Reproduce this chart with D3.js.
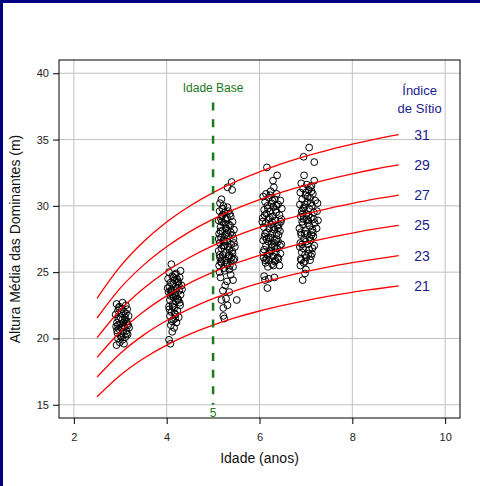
<!DOCTYPE html>
<html lang="pt">
<head>
<meta charset="UTF-8">
<title>Índice de Sítio</title>
<script src="https://d3js.org/d3.v7.min.js"></script>
<style>
    body { margin: 0; background: #fff; }
    #frame {
        width: 477px; height: 483px;
        border-left: 3px solid #000080;
        border-top: 3px solid #000080;
        background: #fff;
    }
    svg { font-family: "Liberation Sans", Arial, sans-serif; display: block; }
    .grid line { stroke: #c0c0c0; stroke-width: 1; }
    .tick text { font-size: 11px; fill: #222; }
</style>
</head>
<body>
<div id="frame"><svg id="chart" width="477" height="483"></svg></div>
<script>
// ages for the site index curves
let curveAges = [2.5, 3, 3.5, 4, 4.5, 5, 5.5, 6, 6.5, 7, 7.5, 8, 8.5, 9];
let siteIndex = [21, 23, 25, 27, 29, 31];
let curveHeights = [
    [15.60, 17.23, 18.49, 19.50, 20.32, 21, 21.58, 22.07, 22.49, 22.86, 23.19, 23.48, 23.73, 23.97],
    [17.09, 18.87, 20.25, 21.35, 22.25, 23, 23.63, 24.17, 24.63, 25.04, 25.40, 25.71, 25.99, 26.25],
    [18.57, 20.51, 22.01, 23.21, 24.19, 25, 25.69, 26.27, 26.78, 27.22, 27.61, 27.95, 28.26, 28.53],
    [20.06, 22.15, 23.77, 25.07, 26.12, 27, 27.74, 28.37, 28.92, 29.39, 29.81, 30.18, 30.52, 30.81],
    [21.54, 23.79, 25.53, 26.92, 28.06, 29, 29.79, 30.47, 31.06, 31.57, 32.02, 32.42, 32.78, 33.09],
    [23.03, 25.43, 27.29, 28.78, 29.99, 31, 31.85, 32.57, 33.20, 33.75, 34.23, 34.65, 35.04, 35.38]
];
let xTicks = [2, 4, 6, 8, 10];
let yTicks = [15, 20, 25, 30, 35, 40];
let baseAge = 5;

// observed plots [age, height]
let obs3 = [
    [2.92,22.6],[3.05,22.7],[3.12,22.5],[2.98,22.4],[3.15,22.2],[2.95,22.1],[3.08,22.0],[3.02,21.9],[2.90,21.8],[3.18,21.7],
    [3.10,21.6],[2.96,21.5],[3.04,21.4],[3.14,21.3],[2.93,21.2],[3.07,21.2],[3.00,21.1],[3.17,21.0],[2.91,20.9],[3.09,20.9],
    [3.03,20.8],[2.97,20.7],[3.13,20.6],[3.06,20.5],[2.94,20.4],[3.16,20.3],[3.01,20.2],[3.11,20.1],[2.95,20.0],[3.05,19.9],
    [2.99,19.7],[3.08,19.6],[2.92,19.5],[3.14,20.4],[3.00,21.6],[3.12,21.9],[2.97,22.3],[3.06,21.0],[2.93,20.6],[3.19,20.8],
    [3.02,20.1],[3.10,21.4],[2.95,21.0],[3.15,21.1],[3.04,22.2]
];
let obs4 = [
    [4.10,25.6],[4.30,25.1],[4.05,25.0],[4.20,24.9],[4.12,24.7],[4.28,24.6],[4.03,24.5],[4.17,24.4],[4.25,24.3],[4.08,24.2],
    [4.14,24.1],[4.32,24.0],[4.06,23.9],[4.22,23.8],[4.11,23.7],[4.27,23.6],[4.04,23.5],[4.18,23.4],[4.30,23.3],[4.09,23.2],
    [4.15,23.1],[4.24,23.0],[4.07,22.9],[4.20,22.8],[4.13,22.6],[4.29,22.5],[4.05,22.4],[4.16,22.3],[4.23,22.1],[4.10,22.0],
    [4.19,21.8],[4.07,21.7],[4.26,21.6],[4.14,21.4],[4.21,21.2],[4.09,21.0],[4.16,20.8],[4.12,20.5],[4.05,19.9],[4.08,19.6],
    [4.18,24.8],[4.24,24.2],[4.02,23.8],[4.33,23.7],[4.12,23.3],[4.28,22.7],[4.06,22.2],[4.17,21.9],[4.22,24.5],[4.10,23.6],
    [4.15,24.6],[4.26,24.0],[4.09,23.5],[4.20,23.2],[4.13,22.4],[4.25,22.9],[4.18,21.5],[4.11,21.3]
];
let obs5 = [
    [5.40,31.8],[5.31,31.4],[5.41,31.2],[5.18,30.5],[5.15,30.2],[5.31,29.9],[5.22,30.0],
    [5.14,29.6],[5.25,29.5],[5.36,29.4],[5.19,29.2],[5.30,29.1],[5.12,28.9],[5.42,28.8],[5.23,28.7],[5.34,28.6],[5.16,28.4],
    [5.28,28.3],[5.45,28.2],[5.20,28.1],[5.38,28.0],[5.13,27.9],[5.26,27.8],[5.33,27.7],[5.17,27.6],[5.44,27.5],[5.22,27.4],
    [5.30,27.3],[5.14,27.2],[5.39,27.1],[5.25,27.0],[5.47,26.9],[5.18,26.8],[5.35,26.7],[5.12,26.6],[5.28,26.5],[5.42,26.4],
    [5.21,26.3],[5.33,26.2],[5.15,26.1],[5.46,26.0],[5.26,25.9],[5.38,25.8],[5.18,25.7],[5.30,25.6],[5.13,25.5],[5.43,25.4],
    [5.23,25.3],[5.35,25.2],[5.20,29.8],[5.37,28.5],[5.24,27.3],[5.41,26.6],[5.16,25.8],[5.32,26.9],[5.19,28.8],[5.45,27.2],
    [5.27,29.0],[5.36,25.5],[5.14,26.3],[5.29,27.9],[5.40,26.1],
    [5.20,29.3],[5.33,29.6],[5.27,28.6],[5.16,28.1],[5.41,27.8],[5.22,27.0],[5.35,26.3],[5.19,26.0],[5.29,25.7],[5.44,25.9],
    [5.25,25.1],[5.12,27.5],[5.38,29.2],[5.31,28.0],[5.17,29.0],
    [5.26,24.0],[5.35,23.5],[5.43,24.4],[5.16,24.6],[5.21,23.6],[5.28,23.0],[5.18,22.9],[5.51,22.9],[5.22,22.3],[5.31,22.5],
    [5.22,21.7],[5.24,21.5],[5.38,24.8],[5.14,25.0],[5.30,24.3]
];
let obs6 = [
    [6.16,32.9],[6.38,32.3],[6.29,31.9],[6.31,31.4],[6.37,30.9],[6.14,30.9],
    [6.08,30.7],[6.20,30.6],[6.33,30.5],[6.45,30.4],[6.12,30.3],[6.26,30.2],[6.40,30.1],[6.17,30.0],[6.30,29.9],[6.48,29.8],
    [6.10,29.7],[6.23,29.6],[6.36,29.5],[6.15,29.4],[6.43,29.3],[6.28,29.2],[6.07,29.1],[6.19,29.0],[6.34,28.9],[6.46,28.8],
    [6.13,28.7],[6.25,28.6],[6.39,28.5],[6.09,28.4],[6.21,28.3],[6.32,28.2],[6.44,28.1],[6.16,28.0],[6.27,27.9],[6.41,27.8],
    [6.11,27.7],[6.24,27.6],[6.37,27.5],[6.08,27.4],[6.19,27.3],[6.31,27.2],[6.47,27.1],[6.14,27.0],[6.26,26.9],[6.38,26.8],
    [6.10,26.7],[6.22,26.6],[6.35,26.5],[6.45,26.4],[6.17,26.3],[6.29,26.2],[6.09,26.1],[6.41,26.0],[6.20,25.9],[6.33,25.8],
    [6.13,25.7],[6.27,25.6],[6.43,25.5],[6.18,25.4],[6.36,30.0],[6.22,29.1],[6.30,28.4],[6.12,27.9],[6.40,27.3],[6.25,26.6],
    [6.15,26.0],[6.34,25.9],[6.06,28.8],[6.47,29.0],[6.20,27.6],[6.32,26.9],[6.28,30.4],[6.42,28.6],[6.18,29.8],[6.37,27.9],
    [6.23,30.8],[6.35,29.7],[6.11,29.3],[6.27,28.8],[6.40,28.3],[6.15,27.5],[6.33,27.4],[6.21,26.4],[6.39,26.1],[6.12,25.9],
    [6.30,25.5],[6.24,31.1],[6.44,27.0],[6.08,26.5],[6.26,27.1],
    [6.10,24.7],[6.32,24.6],[6.12,24.4],[6.20,24.5],[6.17,23.8]
];
let obs7 = [
    [7.07,34.4],[6.95,33.7],[7.18,33.3],[6.96,32.3],[7.18,31.9],
    [6.90,31.7],[7.02,31.6],[7.12,31.5],[6.94,31.3],[7.06,31.2],[6.88,31.0],[7.15,30.9],[6.99,30.8],[7.09,30.6],[6.92,30.5],
    [7.20,30.4],[7.03,30.3],[6.87,30.1],[7.13,30.0],[6.97,29.9],[7.07,29.8],[6.91,29.6],[7.17,29.5],[7.01,29.4],[6.89,29.2],
    [7.11,29.1],[6.95,29.0],[7.05,28.9],[7.19,28.7],[6.93,28.6],[7.08,28.5],[6.86,28.3],[7.14,28.2],[6.99,28.1],[7.03,27.9],
    [6.90,27.8],[7.16,27.7],[6.96,27.5],[7.10,27.4],[6.88,27.2],[7.04,27.1],[7.18,27.0],[6.94,26.8],[7.07,26.7],[6.91,26.5],
    [7.13,26.4],[6.98,26.3],[7.01,26.1],[6.89,26.0],[7.09,25.9],[6.95,25.7],[7.12,31.1],[6.98,30.1],[7.06,29.3],[6.92,28.8],
    [7.15,28.0],[7.00,27.3],[6.87,26.9],[7.11,26.2],[7.04,30.7],[6.93,29.4],[7.17,29.0],[6.97,27.9],[7.08,27.6],[6.90,25.9],
    [7.24,29.6],[7.26,28.9],[7.23,28.3],[7.25,30.2],
    [7.00,31.0],[7.10,30.2],[6.94,29.8],[7.04,28.7],[7.12,27.8],[6.92,27.1],[7.06,26.4],[6.98,25.8],[7.14,26.8],[6.89,28.0],
    [7.02,29.0],[7.09,31.4],
    [6.88,25.5],[6.98,24.9],[6.93,24.4],[7.00,25.2]
];

let svg = d3.select("#chart");
// svg sits 3px right and down of the page origin (frame border)
let box = {left: 56, right: 457, top: 57, bottom: 415};

let x = d3.scaleLinear().domain([1.68, 10.32]).range([box.left, box.right]);
let y = d3.scaleLinear().domain([14, 41]).range([box.bottom, box.top]);

// grid
let grid = svg.append("g").attr("class", "grid");
grid.selectAll(".gx").data(xTicks).join("line")
    .attr("x1", d => x(d)).attr("x2", d => x(d))
    .attr("y1", box.top).attr("y2", box.bottom);
grid.selectAll(".gy").data(yTicks).join("line")
    .attr("y1", d => y(d)).attr("y2", d => y(d))
    .attr("x1", box.left).attr("x2", box.right);

// axes
svg.append("g")
    .attr("transform", `translate(0,${box.bottom})`)
    .call(d3.axisBottom(x).tickValues(xTicks).tickSize(6).tickPadding(9))
    .attr("font-family", null)
    .call(g => g.select(".domain").remove());
svg.append("g")
    .attr("transform", `translate(${box.left},0)`)
    .call(d3.axisLeft(y).tickValues(yTicks).tickSize(6).tickPadding(4))
    .attr("font-family", null)
    .call(g => g.select(".domain").remove());

// points
let allObs = obs3.concat(obs4, obs5, obs6, obs7);
svg.append("g").selectAll("circle").data(allObs).join("circle")
    .attr("cx", d => x(d[0])).attr("cy", d => y(d[1]))
    .attr("r", 3.4)
    .attr("fill", "none").attr("stroke", "#000").attr("stroke-width", 1);

// site index curves
let line = d3.line().curve(d3.curveMonotoneX)
    .x((d, i) => x(curveAges[i])).y(d => y(d));
svg.append("g").selectAll("path").data(curveHeights).join("path")
    .attr("d", line)
    .attr("fill", "none").attr("stroke", "#ff0000").attr("stroke-width", 1.3);

// curve labels
svg.append("g").selectAll("text").data(siteIndex).join("text")
    .attr("x", x(9.5))
    .attr("y", (d, i) => y(curveHeights[i][curveHeights[i].length - 1]) + 5)
    .attr("text-anchor", "middle")
    .attr("font-size", 14).attr("fill", "#1a1a8c")
    .text(d => d);
svg.append("text").attr("x", x(9.45)).attr("y", 92)
    .attr("text-anchor", "middle").attr("font-size", 13).attr("fill", "#1a1a8c")
    .text("Índice");
svg.append("text").attr("x", x(9.45)).attr("y", 110)
    .attr("text-anchor", "middle").attr("font-size", 13).attr("fill", "#1a1a8c")
    .text("de Sítio");

// base age line
let green = "#1b7a1b";
svg.append("line")
    .attr("x1", x(baseAge)).attr("x2", x(baseAge))
    .attr("y1", y(37.8)).attr("y2", y(15))
    .attr("stroke", green).attr("stroke-width", 2.5)
    .attr("stroke-dasharray", "8,8.7");
svg.append("text").attr("x", x(baseAge)).attr("y", y(38.9) + 4)
    .attr("text-anchor", "middle").attr("font-size", 12).attr("fill", green)
    .text("Idade Base");
svg.append("text").attr("x", x(baseAge)).attr("y", box.bottom - 1)
    .attr("text-anchor", "middle").attr("font-size", 12).attr("fill", green)
    .text(baseAge);

// frame box
svg.append("rect")
    .attr("x", box.left).attr("y", box.top)
    .attr("width", box.right - box.left).attr("height", box.bottom - box.top)
    .attr("fill", "none").attr("stroke", "#000").attr("stroke-width", 1);

// axis titles
svg.append("text")
    .attr("x", (box.left + box.right) / 2).attr("y", 460)
    .attr("text-anchor", "middle").attr("font-size", 14).attr("fill", "#111")
    .text("Idade (anos)");
svg.append("text")
    .attr("transform", `translate(17,${(box.top + box.bottom) / 2}) rotate(-90)`)
    .attr("text-anchor", "middle").attr("font-size", 14).attr("fill", "#111")
    .text("Altura Média das Dominantes (m)");
</script>
</body>
</html>
